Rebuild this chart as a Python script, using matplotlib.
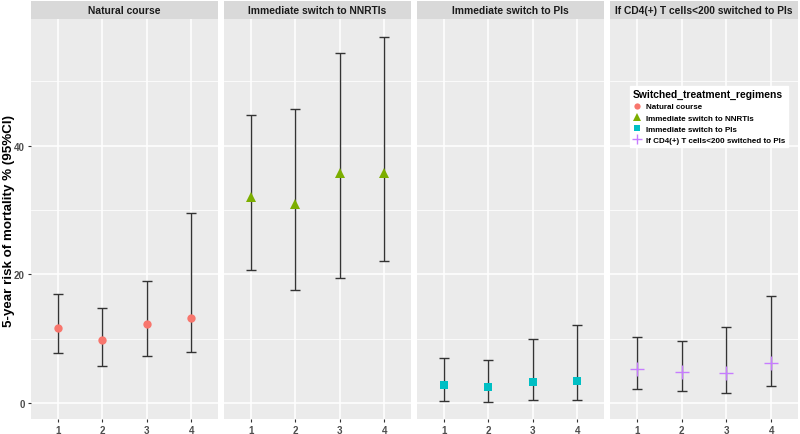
import matplotlib.pyplot as plt
import numpy as np

plt.rcParams['font.family'] = ['Liberation Sans', 'DejaVu Sans']

# panels / groups
regimens = ["Natural course", "Immediate switch to NNRTIs",
            "Immediate switch to PIs", "If CD4(+) T cells<200 switched to PIs"]
times = [1, 2, 3, 4]

# 5-year risk (%) with 95% CI
risk = [
    [11.6, 9.8, 12.2, 13.2],
    [32.0, 30.9, 35.8, 35.8],
    [2.85, 2.4, 3.2, 3.4],
    [5.2, 4.8, 4.7, 6.2],
]
lower = [
    [7.7, 5.7, 7.3, 7.9],
    [20.7, 17.5, 19.4, 22.1],
    [0.3, 0.2, 0.4, 0.4],
    [2.1, 1.8, 1.6, 2.6],
]
upper = [
    [17.0, 14.8, 19.0, 29.6],
    [44.8, 45.7, 54.4, 56.9],
    [7.0, 6.6, 10.0, 12.1],
    [10.2, 9.7, 11.8, 16.7],
]

colors = ["#F8766D", "#7CAE00", "#00BFC4", "#C77CFF"]
markers = ["o", "^", "s", "+"]
msizes = [6, 7.5, 6.2, 10]

W, H = 800, 435
fig = plt.figure(figsize=(W / 100, H / 100), dpi=100)
fig.patch.set_facecolor("white")

panel_x = [(31, 218), (224, 411), (417, 604), (610, 798)]
top, bottom = 20, 420
strip_top = 2

handles = []
for i, (x0, x1) in enumerate(panel_x):
    ax = fig.add_axes([x0 / W, 1 - bottom / H, (x1 - x0) / W, (bottom - top) / H])
    ax.set_facecolor("#EBEBEB")
    ax.set_xlim(0.4, 4.6)
    ax.set_ylim(-2.5, 59.7)
    ax.set_xticks(times)
    ax.set_yticks([0, 20, 40])
    ax.set_yticks([10, 30, 50], minor=True)
    ax.grid(True, which="major", color="white", lw=1.1)
    ax.grid(True, which="minor", axis="y", color="white", lw=0.55)
    ax.set_axisbelow(True)
    for s in ax.spines.values():
        s.set_visible(False)
    ax.tick_params(axis="both", which="major", colors="#333333", length=2.5,
                   width=0.8, labelcolor="#4D4D4D", labelsize=7, pad=2)
    ax.tick_params(axis="y", which="minor", length=0)
    for lab in ax.get_xticklabels() + ax.get_yticklabels():
        lab.set_fontweight("bold")
    if i > 0:
        ax.tick_params(axis="y", which="major", length=0, labelleft=False)

    y = np.array(risk[i])
    err = [y - np.array(lower[i]), np.array(upper[i]) - y]
    ax.errorbar(times, y, yerr=err, fmt="none", ecolor="#333333",
                elinewidth=1.0, capsize=3.6, capthick=1.0, zorder=2)
    h, = ax.plot(times, y, linestyle="none", marker=markers[i], color=colors[i],
                 markersize=msizes[i], markeredgewidth=1 if markers[i] == "+" else 0,
                 zorder=3, label=regimens[i])
    handles.append(h)

    # facet strip
    sax = fig.add_axes([x0 / W, 1 - top / H, (x1 - x0) / W, (top - strip_top) / H])
    sax.set_facecolor("#D9D9D9")
    sax.set_xticks([])
    sax.set_yticks([])
    for s in sax.spines.values():
        s.set_visible(False)
    sax.text(0.5, 0.5, regimens[i], ha="center", va="center", fontsize=7.4,
             fontweight="bold", color="#1A1A1A", transform=sax.transAxes)

    if i == 3:
        leg = ax.legend(handles=handles, title="Switched_treatment_regimens",
                        loc="upper left", bbox_to_anchor=(0.083, 0.843),
                        frameon=True, fancybox=False, framealpha=1,
                        edgecolor="white", prop={"size": 5.8, "weight": "bold"},
                        title_fontproperties={"size": 7.4, "weight": "bold"},
                        handletextpad=0.6, labelspacing=0.45, borderpad=0.4,
                        handlelength=1.0, markerscale=0.75)
        leg._legend_box.align = "left"

# y-axis title, placed at the left edge like the reference
fig.text(9 / W, 1 - ((top + bottom) / 2 + 1) / H, "5-year risk of mortality % (95%CI)",
         rotation=90, ha="center", va="center", fontsize=9.6, fontweight="bold")

fig.savefig("out.png", dpi=100)
